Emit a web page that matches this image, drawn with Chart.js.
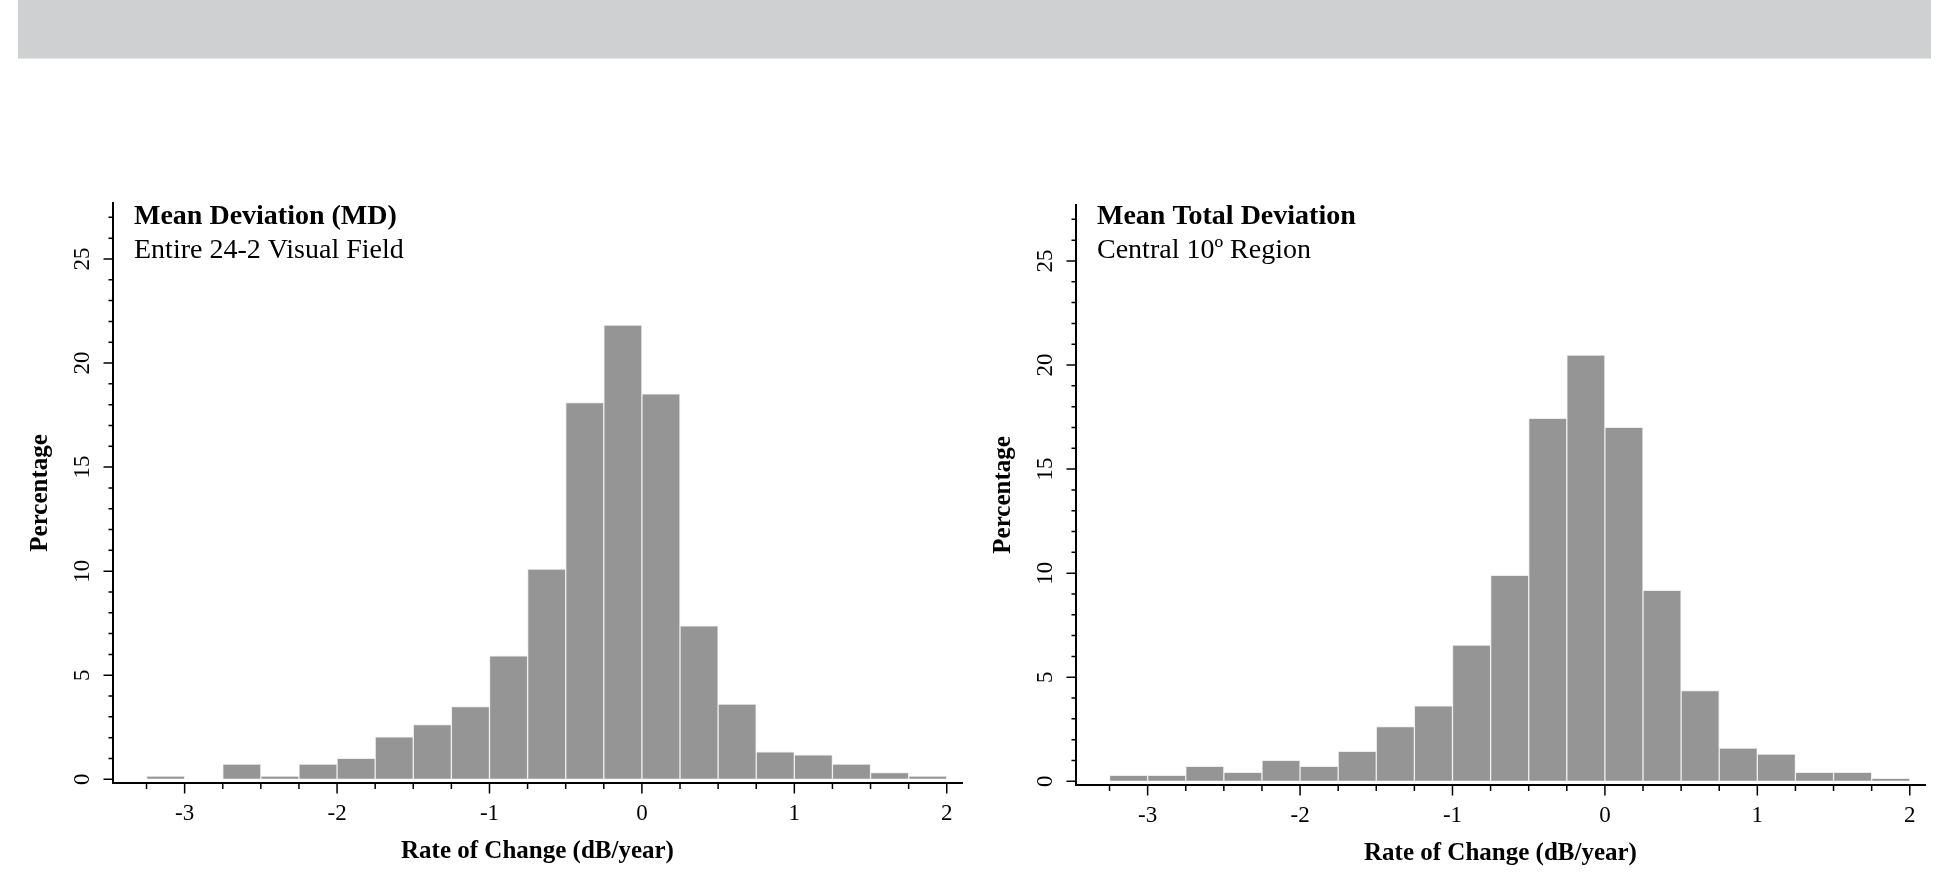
<!DOCTYPE html>
<html>
<head>
<meta charset="utf-8">
<script src="https://cdn.jsdelivr.net/npm/chart.js@4.4.1/dist/chart.umd.min.js"></script>
<style>
  html, body { margin: 0; padding: 0; background: #fff; }
  body { width: 1951px; height: 896px; position: relative; overflow: hidden; }
  .banner { position: absolute; left: 18px; top: 0; width: 1913px; height: 58px; background: #cfd0d2; border-bottom: 1px solid #e3e4e5; }
  .panel { position: absolute; width: 975px; height: 716px; }
  #left { left: 0; top: 180px; }
  #right { left: 963px; top: 182px; }
</style>
</head>
<body>
<div class="banner"></div>
<div class="panel" id="left"><canvas id="md-chart"></canvas></div>
<div class="panel" id="right"><canvas id="mtd-chart"></canvas></div>

<script>
// histogram bins (dB/year), 0.25 wide
const binEdges = [-3.25, -3, -2.75, -2.5, -2.25, -2, -1.75, -1.5, -1.25, -1, -0.75, -0.5, -0.25, 0, 0.25, 0.5, 0.75, 1, 1.25, 1.5, 1.75, 2];
// percentage of eyes in each bin
const mdValues  = [0.15, 0, 0.73, 0.15, 0.73, 1.0, 2.04, 2.63, 3.49, 5.93, 10.1, 18.1, 21.83, 18.52, 7.37, 3.61, 1.32, 1.17, 0.73, 0.32, 0.15];
const mtdValues = [0.29, 0.29, 0.72, 0.43, 1.01, 0.72, 1.44, 2.63, 3.62, 6.54, 9.9, 17.44, 20.48, 17.01, 9.17, 4.36, 1.59, 1.31, 0.43, 0.43, 0.14];
const xTicks = [-3, -2, -1, 0, 1, 2];
const yTicks = [0, 5, 10, 15, 20, 25];

Chart.defaults.font.family = "'Liberation Serif', 'Times New Roman', serif";
Chart.defaults.color = '#000';

// minor + major tick marks, drawn on the chart's own scales
const axisMarks = {
    id: 'axisMarks',
    afterDraw(chart) {
        const { ctx, chartArea: a, scales: { x, y } } = chart;
        ctx.save();
        ctx.strokeStyle = '#000';
        ctx.lineWidth = 1.5;
        ctx.beginPath();
        for (const v of binEdges) {
            const px = x.getPixelForValue(v);
            const len = xTicks.includes(v) ? 10.5 : 6;
            ctx.moveTo(px, a.bottom);
            ctx.lineTo(px, a.bottom + len);
        }
        for (let v = 0; v <= Math.floor(y.max); v++) {
            const py = y.getPixelForValue(v);
            const len = yTicks.includes(v) ? 9.5 : 4.5;
            ctx.moveTo(a.left, py);
            ctx.lineTo(a.left - len, py);
        }
        ctx.stroke();
        ctx.restore();
    }
};

// bold heading + plain sub-heading inside the plot area
const panelTitle = {
    id: 'panelTitle',
    afterDraw(chart, args, opts) {
        const { ctx, chartArea: a } = chart;
        const top = a.top + (opts.dy || 0);
        ctx.save();
        ctx.fillStyle = '#000';
        ctx.textAlign = 'left';
        ctx.textBaseline = 'alphabetic';
        ctx.font = "bold 28px 'Liberation Serif', serif";
        ctx.fillText(opts.title, a.left + 21, top + 21);
        ctx.font = "28px 'Liberation Serif', serif";
        ctx.fillText(opts.subtitle, a.left + 21, top + 55);
        ctx.restore();
    }
};

function makeChart(id, values, title, subtitle, dy) {
    const centers = values.map((v, i) => (binEdges[i] + binEdges[i + 1]) / 2);
    const canva = document.querySelector('#' + id);

    return new Chart(canva, {
        type: 'bar',
        data: {
            datasets: [
                {
                    label: title,
                    data: centers.map((c, i) => ({ x: c, y: values[i] })),
                    backgroundColor: '#959595',
                    borderColor: '#eeeeee',
                    borderWidth: 1,
                    barPercentage: 1,
                    categoryPercentage: 1
                }
            ]
        },
        options: {
            responsive: true,
            maintainAspectRatio: false,
            animation: false,
            layout: { padding: { top: 22, right: 13, left: 0, bottom: 0 } },
            plugins: {
                legend: { display: false },
                tooltip: { enabled: false },
                panelTitle: { title, subtitle, dy }
            },
            scales: {
                x: {
                    type: 'linear',
                    min: -3.47,
                    max: 2.1,
                    offset: false,
                    afterBuildTicks: s => { s.ticks = xTicks.map(v => ({ value: v })); },
                    afterFit: s => { s.height = 113; },
                    ticks: { font: { size: 23 }, padding: 7, maxRotation: 0, autoSkip: false },
                    grid: { offset: false, drawOnChartArea: false, drawTicks: true, tickLength: 10, tickColor: 'rgba(0,0,0,0)' },
                    border: { display: true, color: '#000', width: 2 },
                    title: {
                        display: true,
                        text: 'Rate of Change (dB/year)',
                        font: { size: 25, weight: 'bold' },
                        padding: { top: 0, bottom: 29 }
                    }
                },
                y: {
                    type: 'linear',
                    min: -0.18,
                    max: 27.7,
                    afterBuildTicks: s => { s.ticks = yTicks.map(v => ({ value: v })); },
                    afterFit: s => { s.width = 113; },
                    ticks: { font: { size: 23 }, padding: 9, minRotation: 90, maxRotation: 90, crossAlign: 'center' },
                    grid: { drawOnChartArea: false, drawTicks: true, tickLength: 10, tickColor: 'rgba(0,0,0,0)' },
                    border: { display: true, color: '#000', width: 2 },
                    title: {
                        display: true,
                        text: 'Percentage',
                        font: { size: 25, weight: 'bold' },
                        padding: { top: 26, bottom: 0 }
                    }
                }
            }
        },
        plugins: [axisMarks, panelTitle]
    });
}

makeChart('md-chart', mdValues, 'Mean Deviation (MD)', 'Entire 24-2 Visual Field', 0);
makeChart('mtd-chart', mtdValues, 'Mean Total Deviation', 'Central 10º Region', -2);
</script>
</body>
</html>
